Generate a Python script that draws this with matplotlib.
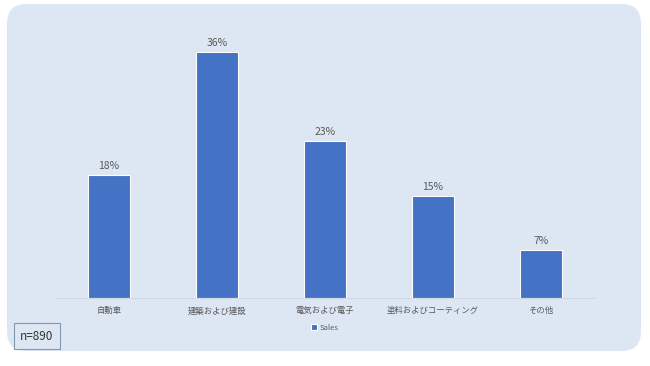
import matplotlib.pyplot as plt
from matplotlib.patches import FancyBboxPatch

plt.rcParams['font.family'] = ['Noto Sans CJK JP', 'DejaVu Sans']

categories = ['自動車', '建築および建設', '電気および電子', '塗料およびコーティング', 'その他']
values = [18, 36, 23, 15, 7]
labels = ['18%', '36%', '23%', '15%', '7%']

bar_color = '#4472c4'
bg_color = '#dde7f3'
txt_color = '#595959'

fig = plt.figure(figsize=(6.5, 3.66), dpi=100)
fig.patch.set_facecolor('white')

# rounded panel behind the chart
panel = FancyBboxPatch((7 / 650, 15 / 366), 634 / 650, 347 / 366,
                       boxstyle='round,pad=0,rounding_size=0.03',
                       transform=fig.transFigure, facecolor=bg_color,
                       edgecolor='none', zorder=-10, mutation_aspect=650 / 366)
fig.patches.append(panel)

ax = fig.add_axes([55 / 650, 68 / 366, 540 / 650, 273 / 366])
ax.set_zorder(1)
ax.set_facecolor('none')
x = range(len(categories))
bars = ax.bar(x, values, width=0.39, color=bar_color, edgecolor='white',
              linewidth=0.8, label='Sales')
for b, lab in zip(bars, labels):
    ax.text(b.get_x() + b.get_width() / 2, b.get_height() + 0.6, lab,
            ha='center', va='bottom', fontsize=7.5, color=txt_color)

ax.set_xlim(-0.5, 4.5)
ax.set_ylim(0, 40)
ax.set_xticks(list(x))
ax.set_xticklabels(categories, fontsize=6, color=txt_color)
ax.tick_params(axis='x', length=0, pad=6)
ax.set_yticks([])
for s in ['top', 'right', 'left']:
    ax.spines[s].set_visible(False)
ax.spines['bottom'].set_color('#d0d7e2')
ax.spines['bottom'].set_linewidth(0.8)

leg = ax.legend(loc='center', bbox_to_anchor=(0.5, -0.11), frameon=False,
                fontsize=5.5, handlelength=0.8, handleheight=0.8,
                handletextpad=0.4)
for t in leg.get_texts():
    t.set_color(txt_color)

fig.text(37 / 650, 1 - 336 / 366, 'n=890', ha='center', va='center',
         fontsize=8.5, color='#333333', zorder=5,
         bbox=dict(boxstyle='square,pad=0.55', facecolor=bg_color,
                   edgecolor='#8497b0', linewidth=0.8))

fig.savefig('out.png', dpi=100)
